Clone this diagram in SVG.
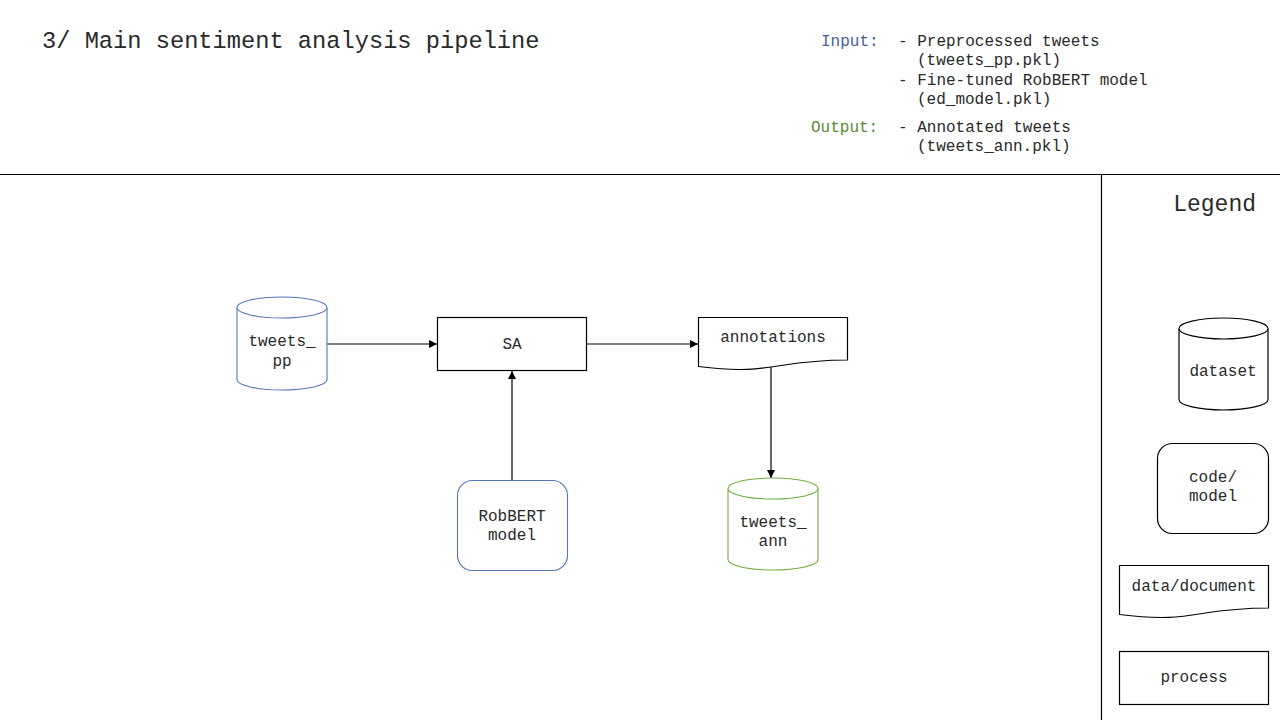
<svg xmlns="http://www.w3.org/2000/svg" width="1280" height="720" viewBox="0 0 1280 720">
<style>
text{font-family:"Liberation Mono","Courier New",monospace;fill:#2a2a2a}
.t{font-size:16px;text-anchor:middle}
.h{font-size:16px}
.box{fill:#fff;stroke:#000;stroke-width:1.2}
.blue{fill:#fff;stroke:#5577b8;stroke-width:1.1}
.green{fill:#fff;stroke:#70ad47;stroke-width:1.1}
.c{stroke:#000;stroke-width:1.2;fill:none;marker-end:url(#ah)}
</style>
<defs>
<marker id="ah" viewBox="0 0 10 10" refX="10" refY="5" markerWidth="8" markerHeight="8" orient="auto" markerUnits="userSpaceOnUse"><path d="M0,0 L10,5 L0,10 Z" fill="#000"/></marker>
</defs>
<rect width="1280" height="720" fill="#fff"/>
<g id="header">
<text x="42" y="48" style="font-size:23.7px">3/ Main sentiment analysis pipeline</text>
<text x="821" y="46" class="h" style="fill:#44609a">Input:</text>
<text x="898" y="46" class="h">- Preprocessed tweets</text>
<text x="917" y="65" class="h">(tweets_pp.pkl)</text>
<text x="898" y="85" class="h">- Fine-tuned RobBERT model</text>
<text x="917" y="104" class="h">(ed_model.pkl)</text>
<text x="811" y="132" class="h" style="fill:#5a8a3c">Output:</text>
<text x="898" y="132" class="h">- Annotated tweets</text>
<text x="917" y="151" class="h">(tweets_ann.pkl)</text>
<line x1="0" y1="174.5" x2="1280" y2="174.5" stroke="#000" stroke-width="1.2"/>
<line x1="1101.5" y1="174" x2="1101.5" y2="720" stroke="#000" stroke-width="1.2"/>
</g>
<g id="connectors">
<line class="c" x1="327" y1="344" x2="437" y2="344"/>
<line class="c" x1="587" y1="344" x2="698" y2="344"/>
<line class="c" x1="771" y1="367" x2="771" y2="478"/>
<line class="c" x1="512" y1="480" x2="512" y2="371"/>
</g>
<g id="tweets_pp">
<path class="blue" d="M237,307.5 A45,10.5 0 0 1 327,307.5 V379.5 A45,10.5 0 0 1 237,379.5 Z"/>
<path class="blue" d="M237,307.5 A45,10.5 0 0 0 327,307.5" fill="none"/>
<text class="t" x="282" y="346">tweets_</text>
<text class="t" x="282" y="366">pp</text>
</g>
<g id="sa">
<rect class="box" x="437.5" y="317.5" width="149" height="53"/>
<text class="t" x="512" y="349">SA</text>
</g>
<g id="annotations">
<path class="box" d="M698.5,317.5 H847.5 V360 C773,360 773,376 698.5,366.5 Z"/>
<text class="t" x="773" y="342">annotations</text>
</g>
<g id="robbert">
<rect class="blue" x="457.5" y="480.5" width="110" height="90" rx="15"/>
<text class="t" x="512" y="521">RobBERT</text>
<text class="t" x="512" y="540">model</text>
</g>
<g id="tweets_ann">
<path class="green" d="M728,488.5 A45,10.5 0 0 1 818,488.5 V559.5 A45,10.5 0 0 1 728,559.5 Z"/>
<path class="green" d="M728,488.5 A45,10.5 0 0 0 818,488.5" fill="none"/>
<text class="t" x="773" y="527">tweets_</text>
<text class="t" x="773" y="546">ann</text>
</g>
<g id="legend">
<text x="1256" y="211" style="font-size:23px;text-anchor:end">Legend</text>
<g id="legend_dataset">
<path class="box" d="M1179,328.5 A44.5,10.5 0 0 1 1268,328.5 V399.5 A44.5,10.5 0 0 1 1179,399.5 Z"/>
<path class="box" d="M1179,328.5 A44.5,10.5 0 0 0 1268,328.5" fill="none"/>
<text class="t" x="1223" y="376">dataset</text>
</g>
<g id="legend_code">
<rect class="box" x="1157.5" y="443.5" width="111" height="90" rx="15"/>
<text class="t" x="1213" y="482">code/</text>
<text class="t" x="1213" y="501">model</text>
</g>
<g id="legend_document">
<path class="box" d="M1119.5,565.5 H1268.5 V608 C1194,608 1194,624 1119.5,614.5 Z"/>
<text class="t" x="1194" y="591">data/document</text>
</g>
<g id="legend_process">
<rect class="box" x="1119.5" y="651.5" width="149" height="53"/>
<text class="t" x="1194" y="682">process</text>
</g>
</g>
</svg>
